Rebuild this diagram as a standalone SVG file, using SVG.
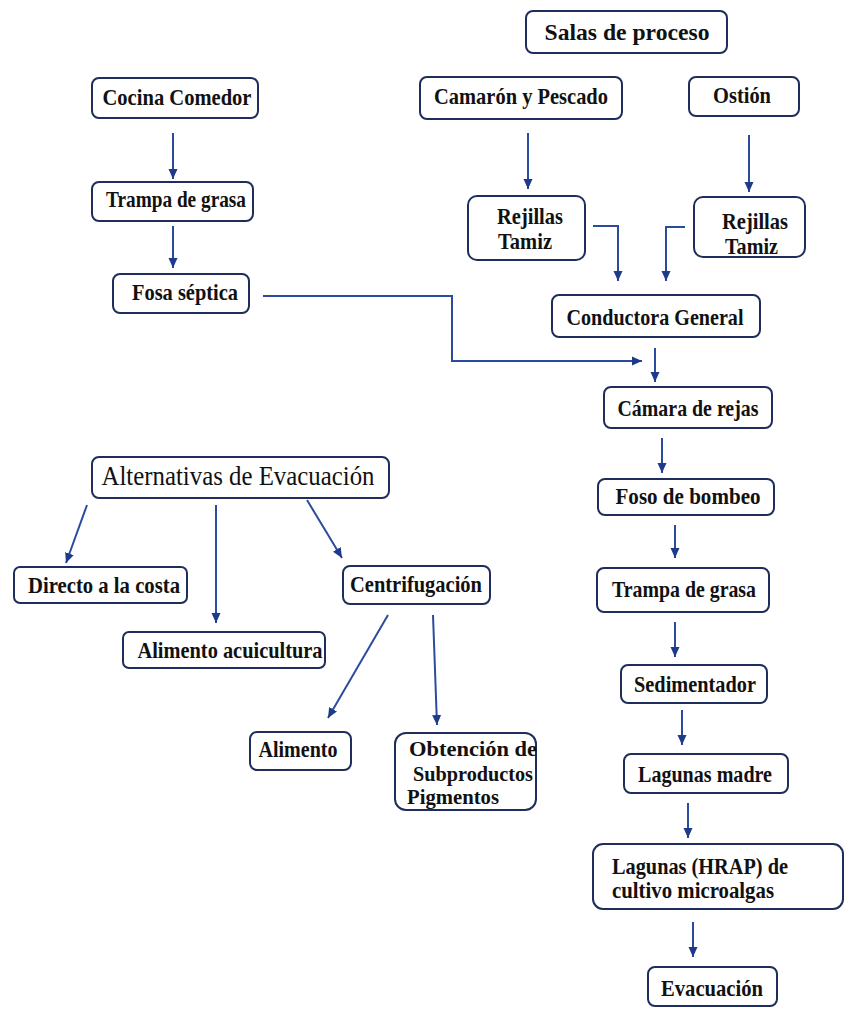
<svg xmlns="http://www.w3.org/2000/svg" width="846" height="1009" viewBox="0 0 846 1009">
<style>
.box{fill:#ffffff;stroke:#1f2d5c;stroke-width:2;}
.t{font-family:"Liberation Serif","Times New Roman",serif;font-size:23px;font-weight:bold;fill:#111111;}
.r{font-weight:normal;font-size:28px;}
.big{font-size:24px;}
.sm{font-size:21px;}
.c{fill:none;stroke:#2b4c9e;stroke-width:2;}
</style>
<defs>
<marker id="ah" markerUnits="userSpaceOnUse" markerWidth="10" markerHeight="10" viewBox="0 0 10 10" refX="10" refY="5" orient="auto">
<path d="M0,0.5 L10,5 L0,9.5 Z" fill="#1f3a8a"/>
</marker>
</defs>
<rect width="846" height="1009" fill="#ffffff"/>

<g id="connectors">
<line class="c" x1="173" y1="133" x2="173" y2="179" marker-end="url(#ah)"/>
<line class="c" x1="173" y1="226" x2="173" y2="268" marker-end="url(#ah)"/>
<line class="c" x1="528" y1="133" x2="528" y2="189" marker-end="url(#ah)"/>
<line class="c" x1="749" y1="135" x2="749" y2="192" marker-end="url(#ah)"/>
<polyline class="c" points="593,226 618,226 618,281" marker-end="url(#ah)"/>
<polyline class="c" points="685,227 666,227 666,281" marker-end="url(#ah)"/>
<polyline class="c" points="263,296 452,296 452,361 642,361" marker-end="url(#ah)"/>
<line class="c" x1="655" y1="348" x2="655" y2="382" marker-end="url(#ah)"/>
<line class="c" x1="662" y1="438" x2="662" y2="473" marker-end="url(#ah)"/>
<line class="c" x1="675" y1="525" x2="675" y2="558" marker-end="url(#ah)"/>
<line class="c" x1="675" y1="622" x2="675" y2="657" marker-end="url(#ah)"/>
<line class="c" x1="682" y1="710" x2="682" y2="745" marker-end="url(#ah)"/>
<line class="c" x1="688" y1="803" x2="688" y2="838" marker-end="url(#ah)"/>
<line class="c" x1="693" y1="922" x2="693" y2="957" marker-end="url(#ah)"/>
<line class="c" x1="87" y1="505" x2="66" y2="563" marker-end="url(#ah)"/>
<line class="c" x1="216" y1="505" x2="216" y2="623" marker-end="url(#ah)"/>
<line class="c" x1="307" y1="500" x2="342" y2="558" marker-end="url(#ah)"/>
<line class="c" x1="388" y1="615" x2="328" y2="718" marker-end="url(#ah)"/>
<line class="c" x1="433" y1="615" x2="437" y2="725" marker-end="url(#ah)"/>
</g>

<g id="salas">
<rect class="box" x="526" y="11" width="201" height="42" rx="7"/>
<text class="t big" x="627" y="40" text-anchor="middle" textLength="165" lengthAdjust="spacingAndGlyphs">Salas de proceso</text>
</g>
<g id="cocina">
<rect class="box" x="92" y="78" width="166" height="40" rx="7"/>
<text class="t" x="177" y="105" text-anchor="middle" textLength="149" lengthAdjust="spacingAndGlyphs">Cocina Comedor</text>
</g>
<g id="camaron">
<rect class="box" x="420" y="77" width="202" height="42" rx="7"/>
<text class="t" x="521" y="104" text-anchor="middle" textLength="174" lengthAdjust="spacingAndGlyphs">Camarón y Pescado</text>
</g>
<g id="ostion">
<rect class="box" x="689" y="77" width="110" height="39" rx="7"/>
<text class="t" x="742" y="103" text-anchor="middle" textLength="58" lengthAdjust="spacingAndGlyphs">Ostión</text>
</g>
<g id="trampa1">
<rect class="box" x="92" y="182" width="161" height="39" rx="7"/>
<text class="t" x="176" y="207" text-anchor="middle" textLength="140" lengthAdjust="spacingAndGlyphs">Trampa de grasa</text>
</g>
<g id="rejillas1">
<rect class="box" x="468" y="196" width="117" height="64" rx="9"/>
<text class="t" x="497" y="224" textLength="66" lengthAdjust="spacingAndGlyphs">Rejillas</text>
<text class="t" x="498" y="249" textLength="54" lengthAdjust="spacingAndGlyphs">Tamiz</text>
</g>
<g id="rejillas2">
<rect class="box" x="694" y="197" width="111" height="60" rx="9"/>
<text class="t" x="722" y="229" textLength="66" lengthAdjust="spacingAndGlyphs">Rejillas</text>
<text class="t" x="725" y="254" textLength="53" lengthAdjust="spacingAndGlyphs">Tamiz</text>
</g>
<g id="fosa">
<rect class="box" x="113" y="274" width="136" height="39" rx="7"/>
<text class="t" x="185" y="300" text-anchor="middle" textLength="106" lengthAdjust="spacingAndGlyphs">Fosa séptica</text>
</g>
<g id="conductora">
<rect class="box" x="552" y="295" width="208" height="42" rx="7"/>
<text class="t" x="655" y="325" text-anchor="middle" textLength="177" lengthAdjust="spacingAndGlyphs">Conductora General</text>
</g>
<g id="camara">
<rect class="box" x="604" y="387" width="168" height="41" rx="7"/>
<text class="t" x="688" y="416" text-anchor="middle" textLength="141" lengthAdjust="spacingAndGlyphs">Cámara de rejas</text>
</g>
<g id="foso">
<rect class="box" x="598" y="479" width="176" height="36" rx="7"/>
<text class="t" x="688" y="504" text-anchor="middle" textLength="145" lengthAdjust="spacingAndGlyphs">Foso de bombeo</text>
</g>
<g id="trampa2">
<rect class="box" x="597" y="568" width="172" height="44" rx="7"/>
<text class="t" x="684" y="597" text-anchor="middle" textLength="144" lengthAdjust="spacingAndGlyphs">Trampa de grasa</text>
</g>
<g id="sedimentador">
<rect class="box" x="621" y="665" width="146" height="38" rx="7"/>
<text class="t" x="695" y="692" text-anchor="middle" textLength="122" lengthAdjust="spacingAndGlyphs">Sedimentador</text>
</g>
<g id="lagunas-madre">
<rect class="box" x="624" y="754" width="164" height="39" rx="7"/>
<text class="t" x="705" y="782" text-anchor="middle" textLength="134" lengthAdjust="spacingAndGlyphs">Lagunas madre</text>
</g>
<g id="lagunas-hrap">
<rect class="box" x="593" y="844" width="250" height="65" rx="10"/>
<text class="t" x="612" y="874" textLength="176" lengthAdjust="spacingAndGlyphs">Lagunas (HRAP) de</text>
<text class="t" x="612" y="898" textLength="162" lengthAdjust="spacingAndGlyphs">cultivo microalgas</text>
</g>
<g id="evacuacion">
<rect class="box" x="648" y="967" width="129" height="39" rx="7"/>
<text class="t" x="712" y="996" text-anchor="middle" textLength="102" lengthAdjust="spacingAndGlyphs">Evacuación</text>
</g>
<g id="alternativas">
<rect class="box" x="92" y="457" width="297" height="41" rx="7"/>
<text class="t r" x="238" y="485" text-anchor="middle" textLength="273" lengthAdjust="spacingAndGlyphs">Alternativas de Evacuación</text>
</g>
<g id="directo">
<rect class="box" x="14" y="567" width="173" height="36" rx="6"/>
<text class="t" x="104" y="593" text-anchor="middle" textLength="152" lengthAdjust="spacingAndGlyphs">Directo a la costa</text>
</g>
<g id="alimento-acuicultura">
<rect class="box" x="123" y="632" width="202" height="36" rx="6"/>
<text class="t" x="230" y="658" text-anchor="middle" textLength="185" lengthAdjust="spacingAndGlyphs">Alimento acuicultura</text>
</g>
<g id="centrifugacion">
<rect class="box" x="343" y="566" width="147" height="38" rx="7"/>
<text class="t" x="416" y="592" text-anchor="middle" textLength="132" lengthAdjust="spacingAndGlyphs">Centrifugación</text>
</g>
<g id="alimento">
<rect class="box" x="250" y="732" width="101" height="38" rx="7"/>
<text class="t" x="298" y="757" text-anchor="middle" textLength="79" lengthAdjust="spacingAndGlyphs">Alimento</text>
</g>
<g id="obtencion">
<rect class="box" x="395" y="733" width="141" height="77" rx="11"/>
<text class="t sm" x="409" y="756" textLength="128" lengthAdjust="spacingAndGlyphs">Obtención de</text>
<text class="t sm" x="413" y="781" textLength="120" lengthAdjust="spacingAndGlyphs">Subproductos</text>
<text class="t sm" x="407" y="804" textLength="92" lengthAdjust="spacingAndGlyphs">Pigmentos</text>
</g>
</svg>
